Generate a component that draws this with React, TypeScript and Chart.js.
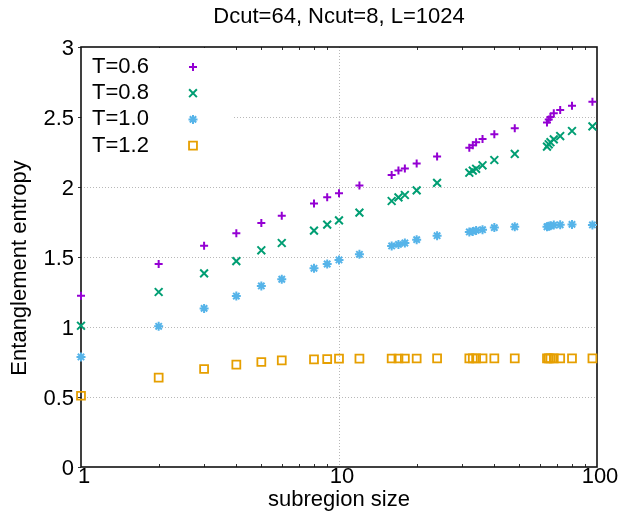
import React, { useEffect, useRef } from 'react';
import { Chart, registerables } from 'chart.js';

Chart.register(...registerables);

// ---------- data ----------
const TITLE = 'Dcut=64, Ncut=8, L=1024';
const X_LABEL = 'subregion size';
const Y_LABEL = 'Entanglement entropy';

const sizes = [1, 2, 3, 4, 5, 6, 8, 9, 10, 12, 16, 17, 18, 20, 24, 32, 33, 34, 36, 40, 48, 64, 65, 66, 68, 72, 80, 96];

const entropyT06 = [1.224, 1.45, 1.581, 1.669, 1.743, 1.795, 1.883, 1.926, 1.955, 2.01, 2.086, 2.117, 2.133, 2.167, 2.217, 2.281, 2.298, 2.32, 2.343, 2.376, 2.419, 2.46, 2.483, 2.5, 2.526, 2.55, 2.581, 2.609];
const entropyT08 = [1.009, 1.25, 1.383, 1.471, 1.548, 1.6, 1.688, 1.731, 1.762, 1.817, 1.9, 1.926, 1.943, 1.976, 2.029, 2.102, 2.117, 2.13, 2.155, 2.193, 2.236, 2.288, 2.305, 2.32, 2.34, 2.364, 2.4, 2.433];
const entropyT10 = [0.786, 1.005, 1.133, 1.221, 1.293, 1.341, 1.419, 1.45, 1.479, 1.519, 1.579, 1.59, 1.6, 1.624, 1.652, 1.679, 1.683, 1.69, 1.695, 1.71, 1.716, 1.716, 1.72, 1.724, 1.728, 1.73, 1.733, 1.729];
const entropyT12 = [0.509, 0.638, 0.7, 0.731, 0.75, 0.762, 0.769, 0.771, 0.774, 0.774, 0.775, 0.775, 0.775, 0.775, 0.776, 0.776, 0.776, 0.776, 0.776, 0.776, 0.776, 0.776, 0.776, 0.776, 0.776, 0.776, 0.776, 0.776];

const seriesLabels = ['T=0.6', 'T=0.8', 'T=1.0', 'T=1.2'];
const seriesValues = [entropyT06, entropyT08, entropyT10, entropyT12];

const xTickValues = [1, 10, 100];
const xMinorTickValues = [2, 3, 4, 5, 6, 7, 8, 9, 20, 30, 40, 50, 60, 70, 80, 90];
const xGridValues = [10];
const yTickValues = [0, 0.5, 1, 1.5, 2, 2.5, 3];

// ---------- styles ----------
const FONT = '"Liberation Sans", Arial, Helvetica, sans-serif';
const seriesStyles = [
  { color: '#9400d3', pointStyle: 'cross', radius: 4, width: 2 },
  { color: '#009e73', pointStyle: 'crossRot', radius: 5.5, width: 2 },
  { color: '#56b4e9', pointStyle: 'star', radius: 4.5, width: 2 },
  { color: '#e69f00', pointStyle: 'rect', radius: 5.6, width: 1.8 },
];

function drawMarker(ctx: CanvasRenderingContext2D, style: string, x: number, y: number, r: number, lw: number, color: string) {
  ctx.save();
  ctx.strokeStyle = color;
  ctx.lineWidth = lw;
  ctx.beginPath();
  if (style === 'cross' || style === 'star') {
    ctx.moveTo(x - r, y); ctx.lineTo(x + r, y);
    ctx.moveTo(x, y - r); ctx.lineTo(x, y + r);
  }
  if (style === 'crossRot' || style === 'star') {
    const d = r * Math.SQRT1_2;
    ctx.moveTo(x - d, y - d); ctx.lineTo(x + d, y + d);
    ctx.moveTo(x - d, y + d); ctx.lineTo(x + d, y - d);
  }
  if (style === 'rect') {
    const s = r * Math.SQRT1_2;
    ctx.rect(x - s, y - s, 2 * s, 2 * s);
  }
  ctx.stroke();
  ctx.restore();
}

const gnuplotFrame = {
  id: 'gnuplotFrame',
  beforeDatasetsDraw(chart: any) {
    const { ctx, chartArea: a, scales } = chart;
    const xs = scales.x, ys = scales.y;
    ctx.save();
    // dotted grid
    ctx.strokeStyle = '#b8b8b8';
    ctx.lineWidth = 1;
    ctx.setLineDash([1, 2]);
    yTickValues.forEach((v) => {
      const py = Math.round(ys.getPixelForValue(v)) + 0.5;
      if (py <= a.top + 1 || py >= a.bottom - 1) return;
      ctx.beginPath(); ctx.moveTo(a.left, py); ctx.lineTo(a.right, py); ctx.stroke();
    });
    xGridValues.forEach((v) => {
      const px = Math.round(xs.getPixelForValue(v)) + 0.5;
      ctx.beginPath(); ctx.moveTo(px, a.top); ctx.lineTo(px, a.bottom); ctx.stroke();
    });
    ctx.setLineDash([]);
    // minor x ticks (inward, mirrored)
    ctx.strokeStyle = '#333';
    ctx.lineWidth = 1;
    xMinorTickValues.forEach((v) => {
      const px = Math.round(xs.getPixelForValue(v)) + 0.5;
      ctx.beginPath();
      ctx.moveTo(px, a.bottom); ctx.lineTo(px, a.bottom - 3);
      ctx.moveTo(px, a.top); ctx.lineTo(px, a.top + 3);
      ctx.stroke();
    });
    // y ticks (outward, short)
    yTickValues.forEach((v) => {
      const py = Math.round(ys.getPixelForValue(v)) + 0.5;
      ctx.beginPath(); ctx.moveTo(a.left, py); ctx.lineTo(a.left - 3, py); ctx.stroke();
    });
    // legend background
    ctx.fillStyle = '#ffffff';
    ctx.fillRect(a.left + 1, a.top + 1, 151, 110);
    // border
    ctx.strokeStyle = '#111';
    ctx.lineWidth = 1.6;
    ctx.strokeRect(a.left, a.top, a.right - a.left, a.bottom - a.top);
    ctx.restore();
  },
  afterDatasetsDraw(chart: any) {
    const { ctx, chartArea: a } = chart;
    ctx.save();
    ctx.font = `22px ${FONT}`;
    ctx.fillStyle = '#000';
    // title, centred over the plot area
    ctx.textAlign = 'center';
    ctx.textBaseline = 'middle';
    ctx.fillText(TITLE, (a.left + a.right) / 2, 17);
    // legend
    ctx.textAlign = 'left';
    ctx.textBaseline = 'middle';
    chart.data.datasets.forEach((ds: any, i: number) => {
      const y = a.top + 20 + i * 26.2;
      ctx.fillText(ds.label, a.left + 11, y);
      const st = seriesStyles[i];
      drawMarker(ctx, st.pointStyle, a.left + 112, y, st.radius, st.width, st.color);
    });
    // y axis title
    ctx.translate(19.5, 268);
    ctx.rotate(-Math.PI / 2);
    ctx.textAlign = 'center';
    ctx.textBaseline = 'middle';
    ctx.fillText(Y_LABEL, 0, 0);
    ctx.restore();
  },
};

export default function App() {
  const canvasRef = useRef<HTMLCanvasElement | null>(null);

  useEffect(() => {
    const canvas = canvasRef.current;
    if (!canvas) return;
    const datasets = seriesLabels.map((label, i) => ({
      label,
      data: sizes.map((s, j) => ({ x: s, y: seriesValues[i][j] })),
      showLine: false,
      pointStyle: seriesStyles[i].pointStyle as any,
      pointRadius: seriesStyles[i].radius,
      pointHoverRadius: seriesStyles[i].radius,
      pointBorderWidth: seriesStyles[i].width,
      pointBorderColor: seriesStyles[i].color,
      pointBackgroundColor: 'rgba(0,0,0,0)',
      borderColor: seriesStyles[i].color,
      backgroundColor: 'rgba(0,0,0,0)',
      clip: false as any,
    }));

    const chart = new Chart(canvas, {
      type: 'scatter',
      data: { datasets },
      options: {
        responsive: false,
        animation: false,
        devicePixelRatio: 1,
        layout: { padding: { left: 0, right: 24, top: 47, bottom: 0 } },
        plugins: {
          legend: { display: false },
          tooltip: { enabled: false },
          title: { display: false },
        },
        scales: {
          x: {
            type: 'logarithmic',
            min: 1,
            max: 100,
            afterBuildTicks: (scale: any) => {
              scale.ticks = xTickValues.map((v) => ({ value: v }));
            },
            afterFit: (scale: any) => { scale.height = 46; },
            grid: { display: false, drawTicks: false },
            border: { display: false },
            ticks: {
              color: '#000',
              font: { family: FONT, size: 22 },
              padding: -3,
              labelOffset: 3,
              maxRotation: 0,
              autoSkip: false,
              callback: (v: any) => String(v),
            },
            title: {
              display: true,
              text: X_LABEL,
              color: '#000',
              font: { family: FONT, size: 22, lineHeight: 1.2 },
              padding: { top: 0, bottom: 0 },
            },
          },
          y: {
            type: 'linear',
            min: 0,
            max: 3,
            afterBuildTicks: (scale: any) => {
              scale.ticks = yTickValues.map((v) => ({ value: v }));
            },
            afterFit: (scale: any) => { scale.width = 81; },
            grid: { display: false, drawTicks: false },
            border: { display: false },
            ticks: {
              color: '#000',
              font: { family: FONT, size: 22 },
              padding: 7,
              labelOffset: 2,
              callback: (v: any) => String(v),
            },
          },
        },
      },
      plugins: [gnuplotFrame],
    });
    return () => chart.destroy();
  }, []);

  return (
    <div style={{ position: 'fixed', left: 0, top: 0, width: 621, height: 513, background: '#fff' }}>
      <canvas ref={canvasRef} width={621} height={513} style={{ display: 'block' }} />
    </div>
  );
}
